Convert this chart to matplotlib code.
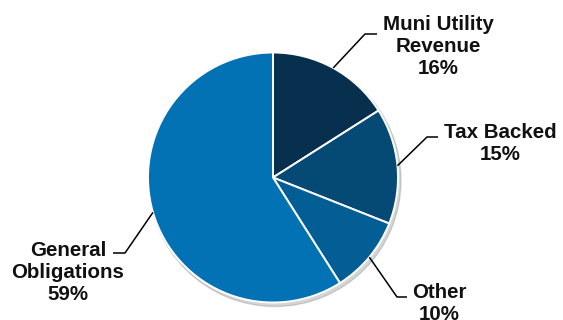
import numpy as np
import matplotlib.pyplot as plt
from matplotlib.patches import Circle

labels = ["Muni Utility\nRevenue", "Tax Backed", "Other", "General\nObligations"]
shares = [16, 15, 10, 59]
colors = ["#07304e", "#044a75", "#035e95", "#0272b5"]

# label placement in pixel coords (y measured from top), plus leader elbow/end
text_pos = [(438, 46), (500, 143), (439, 303), (68, 272)]
elbows = [((365, 34), (377, 34)), ((427, 137), (438, 137)),
          ((397, 297), (407, 297)), ((125, 253), (113, 253))]

W, H = 563, 320
fig = plt.figure(figsize=(W / 100, H / 100), dpi=100)
ax = fig.add_axes([0, 0, 1, 1])

cx, cy, r = 273, H - 177.5, 125

# soft drop shadow
ax.add_patch(Circle((cx + 2, cy - 3), r + 1, color="#888888", alpha=0.35, zorder=0))

wedges, _ = ax.pie(shares, colors=colors, startangle=90, counterclock=False,
                   center=(cx, cy), radius=r, frame=True,
                   wedgeprops=dict(edgecolor="white", linewidth=1.4))
ax.set_xlim(0, W)
ax.set_ylim(0, H)
ax.set_aspect("equal")
ax.axis("off")

for w, lab, val, (tx, ty), (el, en) in zip(wedges, labels, shares, text_pos, elbows):
    mid = np.deg2rad((w.theta1 + w.theta2) / 2)
    sx, sy = cx + r * np.cos(mid), cy + r * np.sin(mid)
    ax.plot([sx, el[0], en[0]], [sy, H - el[1], H - en[1]], color="black", lw=1.1,
            solid_capstyle="butt", zorder=3)
    ax.text(tx, H - ty, f"{lab}\n{val}%", ha="center", va="center",
            fontsize=14.8, fontweight="bold", family="Liberation Sans",
            linespacing=1.2, color="#111111")

fig.savefig("out.png", dpi=100)
